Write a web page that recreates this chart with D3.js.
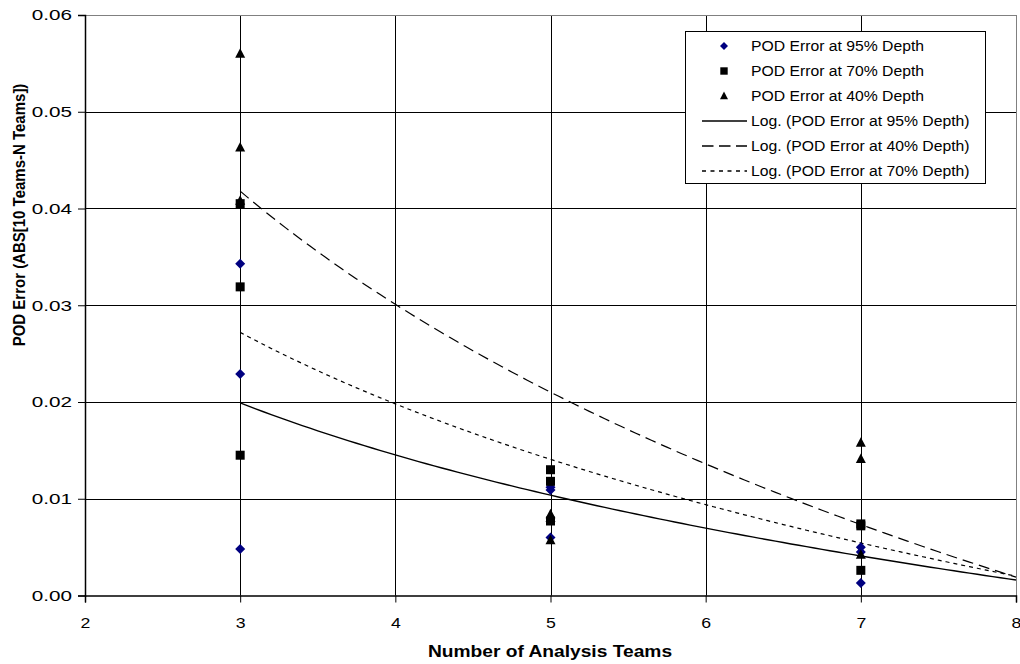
<!DOCTYPE html>
<html><head><meta charset="utf-8">
<script src="https://cdn.jsdelivr.net/npm/d3@7"></script>
<style>
body{margin:0;background:#fff}
svg{display:block}
text{font-family:"Liberation Sans",Arial,sans-serif;fill:#000}
</style></head>
<body><svg id="c" width="1020" height="664"></svg>
<script>
// ---- data ----
const xTicks = [2, 3, 4, 5, 6, 7, 8];
const yTicks = [0, 0.01, 0.02, 0.03, 0.04, 0.05, 0.06];
const xLabel = "Number of Analysis Teams";
const yLabel = "POD Error (ABS[10 Teams-N Teams])";

const pod95 = [[3,0.0343],[3,0.0229],[3,0.0048],[5,0.0112],[5,0.0109],[5,0.0060],[7,0.0050],[7,0.0045],[7,0.0013]];
const pod70 = [[3,0.0405],[3,0.0319],[3,0.0145],[5,0.0130],[5,0.0118],[5,0.0077],[7,0.0074],[7,0.0072],[7,0.0026]];
const pod40 = [[3,0.0560],[3,0.0463],[3,0.0408],[5,0.0084],[5,0.0080],[5,0.0057],[7,0.0158],[7,0.0141],[7,0.0042]];

// logarithmic trend lines y = a*ln(x) + b, drawn over x in [3, 8]
const trendRange = [3, 8];
const trend95 = {a: -0.01866, b: 0.04040};
const trend40 = {a: -0.04068, b: 0.08649};
const trend70 = {a: -0.02569, b: 0.05542};

const legendItems = [
  {label: "POD Error at 95% Depth", kind: "diamond"},
  {label: "POD Error at 70% Depth", kind: "square"},
  {label: "POD Error at 40% Depth", kind: "triangle"},
  {label: "Log. (POD Error at 95% Depth)", kind: "solid"},
  {label: "Log. (POD Error at 40% Depth)", kind: "dashed"},
  {label: "Log. (POD Error at 70% Depth)", kind: "dotted"}
];

// ---- layout ----
const svg = d3.select("#c");
const L = 85, R = 1016, T = 15, B = 595.5;
const x = d3.scaleLinear().domain([2, 8]).range([L, R]);
const y = d3.scaleLinear().domain([0, 0.06]).range([B, T]);
const SX = 1.18;

function stretch(sel, sx) {
  sel.each(function () {
    const t = d3.select(this);
    const px = +t.attr("x") || 0;
    const prev = t.attr("transform") || "";
    t.attr("transform", prev + ` translate(${px * (1 - sx)},0) scale(${sx},1)`);
  });
}

// gridlines
const grid = svg.append("g");
grid.selectAll(".gx").data(xTicks.slice(1, -1)).join("line")
  .attr("x1", d => Math.round(x(d)) + 0.5).attr("x2", d => Math.round(x(d)) + 0.5)
  .attr("y1", T).attr("y2", B).attr("stroke", "#000").attr("stroke-width", 1);
grid.selectAll(".gy").data(yTicks.slice(1)).join("line")
  .attr("x1", L).attr("x2", R)
  .attr("y1", d => Math.round(y(d)) + 0.5).attr("y2", d => Math.round(y(d)) + 0.5)
  .attr("stroke", d => d === 0.06 ? "#808080" : "#000").attr("stroke-width", 1);
// right border
grid.append("line").attr("x1", Math.round(R) + 0.5).attr("x2", Math.round(R) + 0.5)
  .attr("y1", T).attr("y2", B).attr("stroke", "#808080");

// axes
const ax = svg.append("g").attr("transform", `translate(0,${B})`)
  .call(d3.axisBottom(x).tickValues(xTicks).tickFormat(d3.format("d")).tickSizeOuter(0).tickSize(7).tickPadding(15));
const ay = svg.append("g").attr("transform", `translate(${L},0)`)
  .call(d3.axisLeft(y).tickValues(yTicks).tickFormat(d3.format(".2f")).tickSizeOuter(0).tickSize(7).tickPadding(6));
[ax, ay].forEach(g => {
  g.select(".domain").attr("stroke", "#000").attr("stroke-width", 1.5);
  g.selectAll(".tick line").attr("stroke", "#000");
  g.selectAll(".tick text").attr("font-size", 15).attr("font-family", '"Liberation Sans",Arial,sans-serif').attr("fill", "#000");
});
stretch(ax.selectAll(".tick text"), SX);
stretch(ay.selectAll(".tick text"), 1.38);

// axis titles
const xt = svg.append("text").attr("x", 550).attr("y", 657)
  .attr("text-anchor", "middle").attr("font-weight", "bold").attr("font-size", 16).text(xLabel);
stretch(xt, 1.2);
svg.append("text").attr("transform", "translate(25,215) rotate(-90) scale(1,1.15)")
  .attr("text-anchor", "middle").attr("font-weight", "bold").attr("font-size", 15).text(yLabel);

// trend lines
function trendPts(tr) {
  return d3.range(trendRange[0], trendRange[1] + 0.0001, 0.05).map(v => [v, tr.a * Math.log(v) + tr.b]);
}
const line = d3.line().x(d => x(d[0])).y(d => y(d[1]));
const trends = svg.append("g").attr("fill", "none").attr("stroke", "#000");
trends.append("path").attr("d", line(trendPts(trend95))).attr("stroke-width", 1.4);
trends.append("path").attr("d", line(trendPts(trend40))).attr("stroke-width", 1.2).attr("stroke-dasharray", "11,6");
trends.append("path").attr("d", line(trendPts(trend70))).attr("stroke-width", 1.2).attr("stroke-dasharray", "4,4");

// markers
function diamondPath(s) { return `M0,${-s}L${s},0L0,${s}L${-s},0Z`; }
function squarePath(s) { return `M${-s},${-s}H${s}V${s}H${-s}Z`; }
function trianglePath(s) { return `M0,${-s * 1.1}L${s},${s * 0.8}L${-s},${s * 0.8}Z`; }

const pts = svg.append("g");
pts.selectAll(".d").data(pod95).join("path")
  .attr("transform", d => `translate(${x(d[0])},${y(d[1])})`).attr("d", diamondPath(5)).attr("fill", "#000080");
pts.selectAll(".t").data(pod40).join("path")
  .attr("transform", d => `translate(${x(d[0])},${y(d[1])})`).attr("d", trianglePath(5)).attr("fill", "#000");
pts.selectAll(".s").data(pod70).join("path")
  .attr("transform", d => `translate(${x(d[0])},${y(d[1])})`).attr("d", squarePath(4.5)).attr("fill", "#000");

// legend
const lg = svg.append("g");
lg.append("rect").attr("x", 685.5).attr("y", 31.5).attr("width", 300).attr("height", 152)
  .attr("fill", "#fff").attr("stroke", "#000").attr("stroke-width", 1);
const rowY = i => 46 + i * 25;
legendItems.forEach((it, i) => {
  const yy = rowY(i);
  if (it.kind === "diamond") lg.append("path").attr("transform", `translate(724,${yy})`).attr("d", diamondPath(4)).attr("fill", "#000080");
  if (it.kind === "square") lg.append("path").attr("transform", `translate(724,${yy})`).attr("d", squarePath(3.7)).attr("fill", "#000");
  if (it.kind === "triangle") lg.append("path").attr("transform", `translate(724,${yy})`).attr("d", trianglePath(4)).attr("fill", "#000");
  if (it.kind === "solid") lg.append("line").attr("x1", 702).attr("x2", 747).attr("y1", yy).attr("y2", yy).attr("stroke", "#000").attr("stroke-width", 1.4);
  if (it.kind === "dashed") lg.append("line").attr("x1", 702).attr("x2", 747).attr("y1", yy).attr("y2", yy).attr("stroke", "#000").attr("stroke-width", 1.6).attr("stroke-dasharray", "11.5,5.5");
  if (it.kind === "dotted") lg.append("line").attr("x1", 702).attr("x2", 747).attr("y1", yy).attr("y2", yy).attr("stroke", "#000").attr("stroke-width", 1.4).attr("stroke-dasharray", "4,4.5");
  const t = lg.append("text").attr("x", 751).attr("y", yy + 5).attr("font-size", 15).text(it.label);
  stretch(t, 1.05);
});
</script></body></html>
